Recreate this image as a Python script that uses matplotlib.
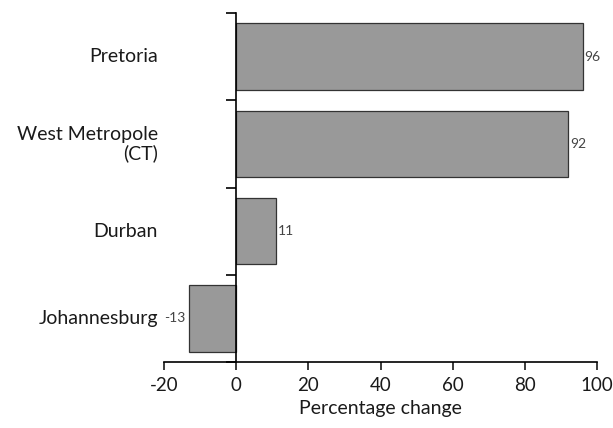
import matplotlib.pyplot as plt
import numpy as np

cities = ['Johannesburg', 'Durban', 'West Metropole\n(CT)', 'Pretoria']
change = [-13, 11, 92, 96]

plt.rcParams['font.family'] = ['Lato', 'DejaVu Sans']
plt.rcParams['axes.unicode_minus'] = False

fig = plt.figure(figsize=(6.13, 4.28), dpi=100)
ax = fig.add_axes([0.2675, 0.154, 0.7065, 0.8156])

y = np.arange(len(cities))
ax.barh(y, change, height=0.76, color='#999999', edgecolor='#333333', linewidth=0.9)

ax.set_xlim(-20, 100)
ax.set_ylim(-0.5, 3.5)
ax.set_xticks(np.arange(-20, 101, 20))
ax.tick_params(axis='x', direction='out', length=6, width=1.2, labelsize=13.5,
               colors='#1a1a1a', pad=5)
ax.set_xlabel('Percentage change', fontsize=14, color='#1a1a1a', labelpad=4)

# left axis sits at zero, ticks between the categories
ax.spines['left'].set_position(('data', 0))
ax.spines['left'].set_linewidth(1.2)
ax.spines['bottom'].set_linewidth(1.2)
ax.spines['top'].set_visible(False)
ax.spines['right'].set_visible(False)
ax.set_yticks([])
ax.set_yticks(np.arange(-0.5, 3.6, 1.0), minor=True)
ax.tick_params(axis='y', which='minor', direction='out', length=7, width=1.2)

trans = ax.get_yaxis_transform()
for yi, name in zip(y, cities):
    ax.text(-0.014, yi, name, transform=trans, ha='right', va='center',
            fontsize=14, color='#1a1a1a', linespacing=1.05, multialignment='right')

for yi, v in zip(y, change):
    if v >= 0:
        ax.text(v + 0.5, yi, str(v), ha='left', va='center', fontsize=10, color='#444444')
    else:
        ax.text(v - 1.0, yi, str(v), ha='right', va='center', fontsize=10, color='#444444')

plt.savefig('out.png', dpi=100)
